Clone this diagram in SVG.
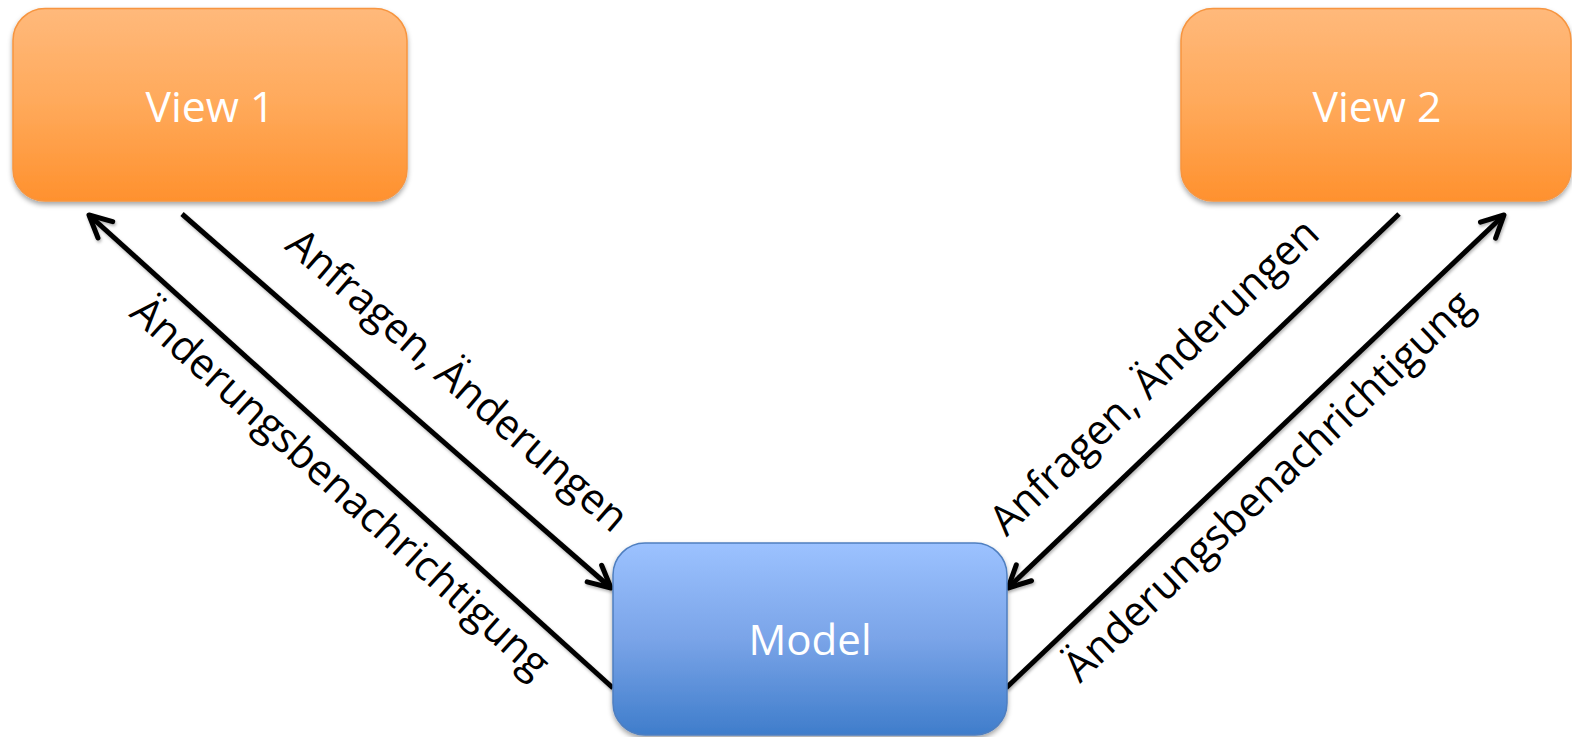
<svg xmlns="http://www.w3.org/2000/svg" width="1572" height="737" viewBox="0 0 1572 737">
  <defs>
    <linearGradient id="gOrange" x1="0" y1="0" x2="0" y2="1">
      <stop offset="0" stop-color="#FFB97B"/>
      <stop offset="0.5" stop-color="#FFA95A"/>
      <stop offset="1" stop-color="#FF912E"/>
    </linearGradient>
    <linearGradient id="gBlue" x1="0" y1="0" x2="0" y2="1">
      <stop offset="0" stop-color="#9CC2FF"/>
      <stop offset="0.5" stop-color="#7AA4E8"/>
      <stop offset="1" stop-color="#3F7DCB"/>
    </linearGradient>
    <filter id="shadow" x="-10%" y="-10%" width="120%" height="130%">
      <feDropShadow dx="0" dy="3" stdDeviation="2.5" flood-color="#000" flood-opacity="0.35"/>
    </filter>
    <filter id="lshadow" x="-10%" y="-10%" width="120%" height="120%">
      <feDropShadow dx="1" dy="2" stdDeviation="1.5" flood-color="#000" flood-opacity="0.3"/>
    </filter>
    <marker id="arrow" viewBox="-30 -20 40 40" refX="0" refY="0" markerWidth="40" markerHeight="40" markerUnits="userSpaceOnUse" orient="auto">
      <path d="M -22,-11 L 0,0 L -22,11" fill="none" stroke="#000" stroke-width="5" stroke-linecap="round" stroke-linejoin="round"/>
    </marker>
  </defs>
  <style>
    .view { fill: url(#gOrange); stroke: #F7953F; stroke-width: 1.5; filter: url(#shadow); }
    .model { fill: url(#gBlue); stroke: #4F7FC0; stroke-width: 1.5; filter: url(#shadow); }
    .boxlabel { font-family: "Open Sans", "Lato", sans-serif; font-size: 42px; fill: #FFFFFF; text-anchor: middle; }
    .conn { stroke: #000; stroke-width: 5; fill: none; marker-end: url(#arrow); }
    .lbl { font-family: "Open Sans", "Lato", sans-serif; font-size: 42px; fill: #000; text-anchor: middle; }
  </style>

  <g id="connectors" filter="url(#lshadow)">
    <line class="conn" x1="182" y1="214" x2="611" y2="588"/>
    <line class="conn" x1="613" y1="688" x2="89" y2="215"/>
    <line class="conn" x1="1399" y1="214" x2="1008" y2="588"/>
    <line class="conn" x1="1006" y1="688" x2="1504" y2="215"/>
  </g>

  <g id="labels">
    <text class="lbl" transform="translate(448,391) rotate(41)" textLength="436" lengthAdjust="spacingAndGlyphs">Anfragen, Änderungen</text>
    <text class="lbl" transform="translate(331,498) rotate(42)" textLength="546" lengthAdjust="spacingAndGlyphs">Änderungsbenachrichtigung</text>
    <text class="lbl" transform="translate(1164,387) rotate(-43.7)" textLength="436" lengthAdjust="spacingAndGlyphs">Anfragen, Änderungen</text>
    <text class="lbl" transform="translate(1278,496) rotate(-43.5)" textLength="546" lengthAdjust="spacingAndGlyphs">Änderungsbenachrichtigung</text>
  </g>

  <g id="view1">
    <rect class="view" x="13" y="8.5" width="394" height="192.5" rx="32" ry="32"/>
    <text class="boxlabel" x="210" y="122" textLength="129" lengthAdjust="spacingAndGlyphs">View 1</text>
  </g>

  <g id="view2">
    <rect class="view" x="1181" y="8.5" width="390" height="192.5" rx="32" ry="32"/>
    <text class="boxlabel" x="1377" y="122" textLength="129" lengthAdjust="spacingAndGlyphs">View 2</text>
  </g>

  <g id="model">
    <rect class="model" x="613" y="543" width="394" height="192" rx="32" ry="32"/>
    <text class="boxlabel" x="810" y="655" textLength="123" lengthAdjust="spacingAndGlyphs">Model</text>
  </g>
</svg>
